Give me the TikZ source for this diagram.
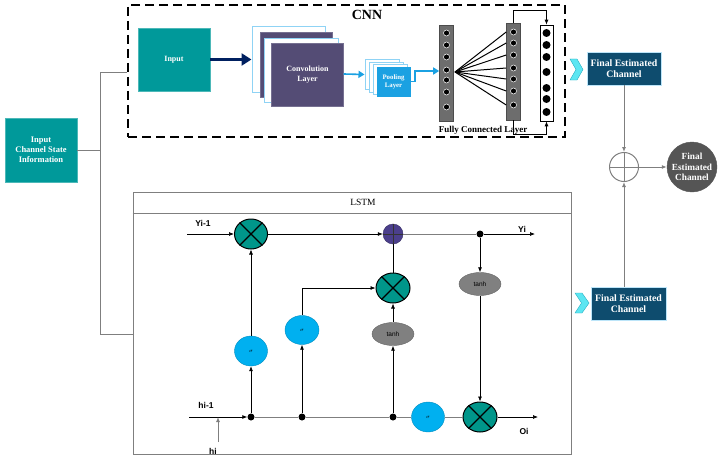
\documentclass[tikz,border=0pt]{standalone}
\usepackage{fontspec}
\setmainfont{Liberation Serif}
\setsansfont{Liberation Sans}
\usetikzlibrary{shapes.geometric,arrows.meta,calc}
\definecolor{tealA}{HTML}{00999A}
\definecolor{convP}{HTML}{544C75}
\definecolor{poolB}{HTML}{1BA1E2}
\definecolor{lightB}{HTML}{8FD3F5}
\definecolor{navyA}{HTML}{002060}
\definecolor{fecB}{HTML}{0E4C6E}
\definecolor{circG}{HTML}{555555}
\definecolor{chevC}{HTML}{5CE6F2}
\definecolor{chevD}{HTML}{2AAFC2}
\definecolor{multT}{HTML}{00968A}
\definecolor{plusP}{HTML}{4B3F8C}
\definecolor{sigB}{HTML}{00B0F0}
\definecolor{tanhG}{HTML}{808080}
\definecolor{fcG}{HTML}{6D6D6D}
\definecolor{lineG}{HTML}{7F7F7F}
\begin{document}
\begin{tikzpicture}[x=1pt,y=-1pt,
  boxtxt/.style={font=\fontsize{8}{9.5}\selectfont\bfseries, text=white, align=center, inner sep=0pt},
  tealbox/.style={boxtxt, rectangle, fill=tealA, draw=tealA!70!white},
  frameW/.style={rectangle, fill=white, draw=lightB, line width=1pt},
  frameP/.style={rectangle, fill=convP, draw=convP!80!white},
  fecbox/.style={boxtxt, font=\fontsize{9.8}{11.5}\selectfont\bfseries, rectangle, fill=fecB, draw=lightB!60!white, minimum width=74pt, minimum height=33pt},
  fccol/.style={rectangle, fill=fcG, draw=black!70, line width=0.6pt, minimum width=14pt},
  fcdot/.style={circle, fill=black, draw=white, line width=0.5pt, inner sep=0pt, minimum size=6pt},
  outdot/.style={circle, fill=black, inner sep=0pt, minimum size=8pt},
  grayline/.style={draw=lineG, line width=1pt},
  arr/.style={-{Latex[length=5pt,width=4pt]}},
  mult/.style={ellipse, fill=multT, draw=black, line width=1pt, minimum width=33pt, minimum height=30pt, inner sep=0pt},
  sig/.style={ellipse, fill=sigB, draw=sigB!80!black, line width=0.4pt, minimum width=33pt, minimum height=30pt, inner sep=0pt, font=\fontsize{5.5}{6}\selectfont},
  tanhn/.style={ellipse, fill=tanhG, draw=tanhG!80!black, line width=0.4pt, minimum width=42pt, minimum height=23pt, inner sep=0pt, font=\sffamily\fontsize{6.5}{7}\selectfont},
  jdot/.style={circle, fill=black, inner sep=0pt, minimum size=7pt},
  lbl/.style={font=\sffamily\bfseries\fontsize{8.5}{9.5}\selectfont, inner sep=0pt},
  lline/.style={draw=black, line width=0.7pt},
  chev/.style={fill=chevC, draw=chevD, line width=0.4pt}
]
\useasboundingbox (0,0) rectangle (725,460);

% ---------- CNN ----------
\node[draw=black, dash pattern=on 9pt off 5pt, line width=1.6pt, minimum width=437pt, minimum height=132pt, inner sep=0pt] (cnn) at (346.5,71) {};
\node[font=\fontsize{14}{15}\selectfont\bfseries, inner sep=0pt] (cnnlbl) at (367,15) {CNN};

\node[tealbox, minimum width=72pt, minimum height=63pt] (input) at (174,59.5) {Input};

\node[frameW, minimum width=73pt, minimum height=65pt] (f1) at (288.5,59.5) {};
\node[frameP, minimum width=72pt, minimum height=65pt] (f2) at (296,64.5) {};
\node[frameW, minimum width=74pt, minimum height=63pt] (f3) at (301,70.5) {};
\node[frameP, boxtxt, minimum width=72pt, minimum height=63pt] (conv) at (307.5,74.5) {Convolution\\Layer};

\draw[draw=navyA, line width=3.5pt, -{Triangle[length=10pt,width=12pt]}] (input.east) -- (f1.west);

\node[frameW, minimum width=34pt, minimum height=29pt] (p1) at (382,74.5) {};
\node[frameW, minimum width=34pt, minimum height=29pt] (p2) at (386,77.5) {};
\node[frameW, minimum width=34pt, minimum height=29pt] (p3) at (390,79.5) {};
\node[boxtxt, font=\fontsize{6.8}{8}\selectfont\bfseries, rectangle, fill=poolB, draw=poolB, minimum width=33pt, minimum height=29pt] (pool) at (393.5,81.5) {Pooling\\Layer};

\draw[draw=poolB, line width=1.6pt, -{Triangle[length=6pt,width=7pt]}] (conv.east |- 0,74) -- (p1.west);

% FC layers
\node[fccol, minimum height=96pt] (fc1) at (446.5,73) {};
\foreach \y [count=\i] in {33,45,57,70,80,92,107} {
  \node[fcdot] (a\i) at (446.5,\y) {};
}
\draw[draw=poolB, line width=1.6pt, -{Triangle[length=6pt,width=7pt]}] (pool.east) -- ++(5,0) |- (fc1.west |- 0,71);

\node[fccol, minimum height=97pt] (fc2) at (513.5,71.5) {};
\coordinate (hub) at (455,72);
\foreach \y [count=\i] in {32,43,55,68,79,91,105} {
  \node[fcdot] (d\i) at (513.5,\y) {};
  \draw[line width=1pt] (hub) -- (d\i -| fc2.west);
}
\node[rectangle, fill=white, draw=black, line width=0.7pt, minimum width=13pt, minimum height=96pt] (out) at (546.5,73) {};
\foreach \y [count=\i] in {33,45,57,72,88,99,112} {
  \node[outdot] (o\i) at (546.5,\y) {};
}
\draw[line width=0.8pt, arr] (fc2.north) -- ++(0,-12) -| (out.north);
\draw[line width=0.8pt, arr] (fc2.south) -- ++(0,14) -| (out.south);
\node[font=\fontsize{9}{10}\selectfont\bfseries, inner sep=0pt] (fcl) at (483,130) {Fully Connected Layer};

% ---------- right side ----------
\fill[chev] (570,59) -- (577,59) -- (583,69.5) -- (577,80) -- (570,80) -- (576,69.5) -- cycle;
\node[fecbox] (fec1) at (624,68.5) {Final Estimated\\Channel};

\node[circle, fill=white, draw=lineG, line width=1pt, minimum size=29pt, inner sep=0pt] (sum) at (624,167) {};
\draw[draw=lineG, line width=0.8pt] (sum.north) -- (sum.south) (sum.west) -- (sum.east);

\node[circle, fill=circG, draw=circG, minimum size=50pt, inner sep=0pt, boxtxt, font=\fontsize{9.3}{10.5}\selectfont\bfseries] (fout) at (692,167) {Final\\Estimated\\Channel};

\fill[chev] (575,293) -- (582,293) -- (589,303) -- (582,313) -- (575,313) -- (581.5,303) -- cycle;
\node[fecbox, minimum width=75pt] (fec2) at (628.5,303.5) {Final Estimated\\Channel};

\draw[grayline, arr] (fec1.south -| sum) -- (sum.north);
\draw[grayline, arr] (fec2.north -| sum) -- (sum.south);
\draw[grayline, arr] (sum.east) -- (fout.west);

% ---------- left input ----------
\node[tealbox, font=\fontsize{8.5}{10}\selectfont\bfseries, minimum width=72pt, minimum height=64pt] (csi) at (41,150) {Input\\Channel State\\Information};

% ---------- LSTM ----------
\node[rectangle, draw=lineG, line width=0.8pt, minimum width=438pt, minimum height=262pt, inner sep=0pt] (lstm) at (352,323) {};
\draw[draw=lineG, line width=0.8pt] ($(lstm.north west)+(0,22)$) -- ($(lstm.north east)+(0,22)$);
\node[font=\fontsize{9.5}{10}\selectfont, inner sep=0pt] (lstmlbl) at (363,202) {LSTM};

\coordinate (jt) at (100,72);
\coordinate (jb) at (100,334);
\draw[draw=lineG, line width=0.8pt] (csi.east) -- (csi.east -| jt);
\draw[draw=lineG, line width=0.8pt] (cnn.west |- jt) -- (jt) -- (jb) -- (jb -| lstm.west);

% nodes
\node[mult] (m1) at (251,234) {};
\node[circle, fill=plusP, draw=plusP!70!black, minimum size=20pt, inner sep=0pt] (plus) at (393,234) {};
\node[jdot] (yd) at (480,234) {};
\node[tanhn] (t2) at (480,284) {tanh};
\node[mult, minimum width=34pt] (m3) at (480,417) {};
\node[mult, minimum width=34pt] (m2) at (393,288) {};
\node[tanhn] (t1) at (393,334) {tanh};
\node[sig] (s1) at (251,351) {$\sigma$};
\node[sig, minimum width=34pt, minimum height=29pt] (s2) at (302,330) {$\sigma$};
\node[sig] (s3) at (428,417) {$\sigma$};
\node[jdot] (h1) at (251,417) {};
\node[jdot] (h2) at (302,417) {};
\node[jdot] (h3) at (393,417) {};
\foreach \m in {m1,m2,m3} {
  \draw[line width=1.1pt] (\m.45) -- (\m.225) (\m.135) -- (\m.315);
}
\draw[line width=0.6pt, draw=black!80] (plus.north) -- (plus.south) (plus.west) -- (plus.east);

\coordinate (yim1) at (187,234);
\coordinate (yiend) at (535,234);
\coordinate (him1) at (189,417);
\coordinate (oiend) at (538,417);
\coordinate (hist) at (218,442);
\coordinate (hij) at (218,417);

\draw[lline, arr] (yim1) -- (m1.west);
\draw[lline, arr] (m1.east) -- (plus.west);
\draw[grayline, line width=0.7pt] (plus.east) -- (yd);
\draw[lline, arr] (yd) -- (yiend);
\draw[lline, arr] (yd) -- (t2.north);
\draw[lline, arr] (t2.south) -- (m3.north);
\draw[lline] (m2.north) -- (plus.south);
\draw[lline, arr] (t1.north) -- (m2.south);
\draw[lline, arr] (s1.north) -- (m1.south);
\draw[lline, arr] (s2.north) |- (m2.west);
\draw[lline, arr] (h1) -- (s1.south);
\draw[lline, arr] (h2) -- (s2.south);
\draw[lline, arr] (h3) -- (t1.south);
\draw[lline, arr] (him1) -- (h1);
\draw[grayline, line width=0.7pt] (h1) -- (h2) -- (h3) -- (s3.west);
\draw[grayline, line width=0.7pt] (s3.east) -- (m3.west);
\draw[lline, arr] (m3.east) -- (oiend);
\draw[draw=lineG, line width=1pt, arr] (hist) -- (hij);

\node[lbl] (lyim1) at (203,223) {Yi-1};
\node[lbl] (lyi) at (522,229) {Yi};
\node[lbl] (lhim1) at (206,405) {hi-1};
\node[lbl] (lhi) at (213,451) {hi};
\node[lbl] (loi) at (524,431) {Oi};
\end{tikzpicture}
\end{document}
